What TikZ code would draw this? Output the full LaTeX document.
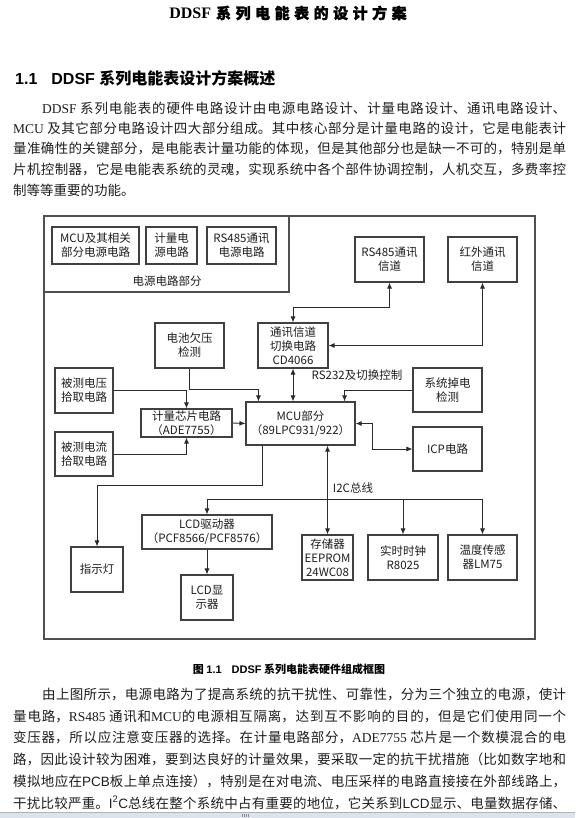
\documentclass[tikz,border=0pt]{standalone}
\usepackage{fontspec}
\setmainfont{Liberation Serif}
\newfontfamily\cjk{Noto Sans CJK SC}
\newfontfamily\ensans{Liberation Sans}
\usetikzlibrary{arrows.meta}
\definecolor{ink}{HTML}{1E1E1E}
\definecolor{wire}{HTML}{2B2B2B}
\definecolor{rimgrey}{HTML}{505050}
\definecolor{barblue}{HTML}{DCE3EC}
\XeTeXlinebreaklocale "zh"
\XeTeXlinebreakskip=0pt plus 3pt
\newcommand\en[1]{{\rmfamily #1}}
\newcommand\ensf[1]{{\ensans #1}}
\newcommand\jline[2]{\parbox{#1}{\parfillskip=0pt\relax\noindent #2\par}}
\tikzset{
  box/.style={draw=black!75, line width=1.1pt, fill=white, align=center,
              inner sep=0pt, font=\cjk\fontsize{11.5}{14}\selectfont, text=ink},
  flow/.style={-{Latex[length=6pt,width=5pt]}, line width=0.9pt, wire},
  dflow/.style={{Latex[length=6pt,width=5pt]}-{Latex[length=6pt,width=5pt]}, line width=0.9pt, wire},
  tag/.style={font=\cjk\fontsize{11.5}{14}\selectfont, text=ink, inner sep=0pt},
  rim/.style={draw=rimgrey, line width=1.3pt},
  para/.style={font=\cjk\fontsize{13.5}{16}\selectfont, text=ink, inner sep=0pt, anchor=west},
}

\begin{document}
\begin{tikzpicture}[x=1pt,y=-1pt]
  \fill[white] (0,0) rectangle (575,818);
  \useasboundingbox (0,0) rectangle (575,818);

  \node (title) at (288,13) {\bfseries\fontsize{16}{18}\selectfont DDSF\hspace{5pt}{\cjk\bfseries\fontsize{15}{18}\selectfont\addfontfeature{LetterSpace=30,FakeBold=1.5}系列电能表的设计方案}};
  \node[anchor=west, inner sep=0pt] (head) at (15,78) {\bfseries\fontsize{16}{18}\selectfont\ensans 1.1\hspace{14pt}DDSF {\cjk 系列电能表设计方案概述}};

  \node[para] (p1a) at (42,108) {\jline{524pt}{\en{DDSF} 系列电能表的硬件电路设计由电源电路设计、计量电路设计、通讯电路设计、}};
  \node[para] (p1b) at (13,128.5) {\jline{553pt}{\en{MCU} 及其它部分电路设计四大部分组成。其中核心部分是计量电路的设计，它是电能表计}};
  \node[para] (p1c) at (13,149) {\jline{553pt}{量准确性的关键部分，是电能表计量功能的体现，但是其他部分也是缺一不可的，特别是单}};
  \node[para] (p1d) at (13,169.5) {\jline{553pt}{片机控制器，它是电能表系统的灵魂，实现系统中各个部件协调控制，人机交互，多费率控}};
  \node[para] (p1e) at (13,190) {制等等重要的功能。};

  \draw[rim] (44,216) rectangle (535,639);
  \draw[rim] (44,216) rectangle (289,292);
  \node[tag] (pwrlbl) at (167,281) {电源电路部分};
  \foreach \n/\x/\w/\t in {pwrMCU/95.5/87/{MCU及其相关\\部分电源电路},
                           pwrMet/171.5/51/{计量电\\源电路},
                           pwr485/241.5/69/{RS485通讯\\电源电路}}
    \node[box, minimum width=\w pt, minimum height=37pt] (\n) at (\x,245.5) {\t};

  \node[box, minimum width=69pt, minimum height=45pt] (ch485) at (389.5,259.5) {RS485通讯\\信道};
  \node[box, minimum width=69pt, minimum height=45pt] (chIR) at (482.5,259.5) {红外通讯\\信道};
  \node[box, minimum width=70pt, minimum height=45pt] (switch) at (293,345.5) {通讯信道\\切换电路\\CD4066};
  \node[box, minimum width=69pt, minimum height=45pt] (batt) at (189.5,345.5) {电池欠压\\检测};
  \node[box, minimum width=58pt, minimum height=45pt] (volt) at (84,390.5) {被测电压\\拾取电路};
  \node[box, minimum width=91pt, minimum height=28pt] (meter) at (186.5,423) {计量芯片电路\\（ADE7755）};
  \node[box, minimum width=58pt, minimum height=44pt] (curr) at (84,454) {被测电流\\拾取电路};
  \node[box, minimum width=109pt, minimum height=43pt] (mcu) at (300.5,423.5) {MCU部分\\（89LPC931/922）};
  \node[box, minimum width=69pt, minimum height=44pt] (pdown) at (447.5,390) {系统掉电\\检测};
  \node[box, minimum width=69pt, minimum height=44pt] (icp) at (447.5,449) {ICP电路};
  \node[box, minimum width=130pt, minimum height=34pt] (lcddrv) at (207,532) {LCD驱动器\\（PCF8566/PCF8576）};
  \node[box, minimum width=52pt, minimum height=45pt] (led) at (97,569.5) {指示灯};
  \node[box, minimum width=52pt, minimum height=45pt] (lcd) at (207,597.5) {LCD显\\示器};
  \foreach \n/\x/\w/\t in {eeprom/327.5/51/{存储器\\EEPROM\\24WC08},
                           rtc/403/70/{实时时钟\\R8025},
                           temp/482.5/69/{温度传感\\器LM75}}
    \node[box, minimum width=\w pt, minimum height=45pt] (\n) at (\x,557.5) {\t};

  \draw[dflow] (ch485.south) -- ++(0,25) -| (switch.north);
  \draw[dflow] (chIR.south) |- (switch.east);
  \draw[dflow] (switch.south) -- (switch.south |- mcu.north);
  \node[tag] (rs232) at (357,375) {RS232及切换控制};
  \draw[flow] (batt.south) -- ++(0,21) -| ([xshift=13pt]mcu.north west);
  \draw[flow] (volt.east) -| (meter.north);
  \draw[flow] (curr.east) -| (meter.south);
  \draw[flow] (meter.east) -- (mcu.west);
  \draw[flow] (pdown.west) -| ([xshift=-11pt]mcu.north east);
  \draw[dflow] (mcu.east) -- ++(17,0) |- (icp.west);
  \draw[flow] ([xshift=17pt]mcu.south west) -- ++(0,40) -| (led.north);

  \coordinate (bus) at (345,499);
  \draw[flow] (bus -| temp.north) -| (lcddrv.north);
  \foreach \n in {rtc,temp}
    \draw[flow] (bus -| \n.north) -- (\n.north);
  \draw[dflow] (mcu.south -| eeprom.north) -- (eeprom.north);
  \node[tag] (i2c) at (353,488) {I2C总线};
  \draw[flow] (lcddrv.south) -- (lcd.north);

  \node (cap) at (289,669) {\bfseries\fontsize{11}{13}\selectfont\cjk 图 {\ensans 1.1\hspace{10pt}DDSF} 系列电能表硬件组成框图};

  \node[para] (p2a) at (42,694) {\jline{524pt}{由上图所示，电源电路为了提高系统的抗干扰性、可靠性，分为三个独立的电源，使计}};
  \node[para] (p2b) at (13,716) {\jline{553pt}{量电路，\en{RS485} 通讯和\en{MCU}的电源相互隔离，达到互不影响的目的，但是它们使用同一个}};
  \node[para] (p2c) at (13,737.5) {\jline{553pt}{变压器，所以应注意变压器的选择。在计量电路部分，\en{ADE7755} 芯片是一个数模混合的电}};
  \node[para] (p2d) at (13,759.5) {\jline{553pt}{路，因此设计较为困难，要到达良好的计量效果，要采取一定的抗干扰措施（比如数字地和}};
  \node[para] (p2e) at (13,781) {\jline{553pt}{模拟地应在\ensf{PCB}板上单点连接），特别是在对电流、电压采样的电路直接接在外部线路上，}};
  \node[para] (p2f) at (13,803) {\jline{553pt}{干扰比较严重。\ensf{I\textsuperscript{2}C}总线在整个系统中占有重要的地位，它关系到\ensf{LCD}显示、电量数据存储、}};

  \fill[barblue] (0,812) rectangle (575,818);
  \draw[black!30, line width=0.6pt] (0,812) -- (575,812);
  \foreach \gx in {242,244,246,248}
    \draw[black!45, line width=0.5pt] (\gx,814) -- (\gx,817);
\end{tikzpicture}
\end{document}
